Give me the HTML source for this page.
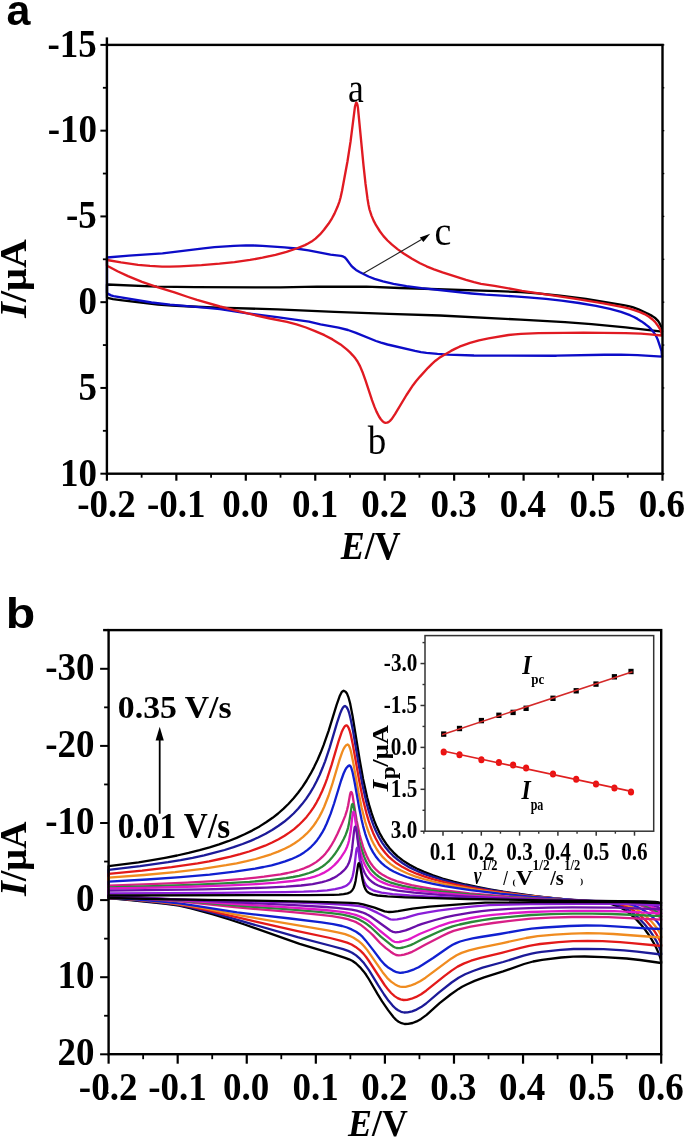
<!DOCTYPE html>
<html><head><meta charset="utf-8"><style>html,body{margin:0;padding:0;background:#fff;overflow:hidden}svg{display:block}</style></head><body>
<svg style="will-change:transform" width="685" height="1138" viewBox="0 0 685 1138">
<rect width="685" height="1138" fill="#fff"/>
<g fill="none" stroke-width="2.35" stroke-linejoin="round" stroke-linecap="round">
<path stroke="#000000" d="M107.0 284.5L157.0 286.6L195.0 287.2L280.5 287.4L317.0 286.6L366.5 286.7L400.0 288.0L497.5 291.1L521.0 292.2L537.5 293.4L560.0 295.6L586.0 298.9L623.5 305.2L628.5 306.2L632.5 307.2L638.5 309.4L647.5 313.5L652.0 315.9L655.5 318.3L658.0 320.8L659.0 322.3L660.5 325.2L661.5 327.2L662.0 331.6L625.5 327.4L591.5 324.1L565.0 322.2L520.5 319.7L440.0 315.5L389.0 313.9L334.5 311.9L277.5 309.4L218.0 307.6L191.0 306.5L172.0 305.5L158.0 304.5L122.5 300.4L113.0 299.1L107.5 297.9L107.0 297.6Z"/>
<path stroke="#0c0cc8" d="M107.0 257.5L129.0 255.6L162.5 253.4L203.5 248.4L214.5 247.2L234.0 245.8L246.0 245.4L253.5 245.5L262.5 245.9L284.5 247.4L296.0 248.5L308.5 250.3L330.5 254.7L341.0 255.8L343.0 256.4L345.0 257.6L346.5 259.3L351.0 265.4L352.5 267.0L356.0 269.9L360.0 272.3L368.5 276.5L374.5 278.8L383.0 281.4L393.5 283.8L406.5 286.1L421.5 288.2L471.5 293.5L485.5 294.7L514.5 296.4L528.0 297.3L546.0 298.9L561.5 300.6L579.0 303.0L596.0 305.9L610.0 308.9L621.0 311.9L630.0 315.2L634.0 317.0L637.5 318.9L641.5 321.4L645.5 324.3L648.5 326.7L651.5 329.7L653.5 332.1L655.0 334.2L656.5 336.9L658.0 340.3L661.5 350.9L662.0 356.6L637.5 355.1L621.0 354.6L604.5 354.7L556.5 355.7L474.0 355.5L448.0 354.7L437.5 353.9L426.5 352.8L421.0 352.1L415.0 350.9L387.5 344.5L381.0 342.7L376.0 341.0L356.0 332.8L348.0 330.0L338.5 327.6L320.5 324.3L309.0 321.6L277.0 317.1L247.5 313.4L220.0 309.2L207.0 307.9L170.0 304.7L151.5 302.5L113.5 296.2L111.0 295.4L107.5 293.6L107.0 292.6Z"/>
<path stroke="#e01a22" d="M107.0 260.0L121.0 262.4L138.0 264.8L150.0 265.9L162.0 266.6L170.0 266.7L179.5 266.3L201.5 265.1L219.5 263.7L234.5 262.1L250.0 259.9L262.5 257.7L275.5 254.8L286.5 251.9L296.5 248.5L305.0 245.1L308.5 243.3L311.5 241.6L315.5 238.6L320.0 234.4L324.0 229.8L328.5 223.8L332.0 218.3L334.5 213.6L337.5 206.8L339.5 201.3L340.5 197.8L342.0 191.0L347.5 161.3L350.5 141.9L355.0 106.4L356.0 103.0L356.5 102.6L357.0 103.5L357.5 105.1L358.0 108.3L363.5 165.3L365.5 183.7L367.5 198.7L368.5 204.8L369.5 209.5L371.5 215.6L373.5 220.4L376.0 225.2L380.0 231.5L383.5 236.1L387.5 240.5L392.0 244.7L397.5 249.1L404.0 253.7L412.0 258.7L420.0 263.2L426.5 266.3L434.0 269.3L442.5 272.3L466.0 279.9L474.0 282.2L481.0 283.8L494.5 285.8L522.0 290.8L576.0 298.9L603.5 303.3L623.0 307.1L629.5 308.7L635.0 310.3L640.0 312.1L644.5 314.1L649.0 316.8L652.5 319.5L655.0 321.9L657.5 325.2L661.0 330.6L661.5 333.0L661.5 335.5L650.0 334.3L641.0 333.7L625.5 333.2L603.0 332.8L583.5 332.7L565.0 332.8L538.5 333.2L521.0 333.8L515.0 334.3L508.5 335.0L488.5 338.3L479.0 340.3L470.0 342.9L459.5 346.7L455.5 348.6L451.0 350.9L444.0 355.0L439.0 358.1L435.5 360.7L432.0 363.8L428.0 367.8L420.0 376.6L416.0 381.3L413.0 385.2L406.5 395.0L395.0 414.1L391.5 419.3L390.0 420.9L388.5 422.1L387.0 422.7L385.5 422.8L384.0 422.3L383.0 421.6L381.0 419.5L379.0 416.5L376.5 411.6L374.5 406.9L372.0 400.2L365.5 380.4L363.0 373.3L360.0 366.1L357.5 361.5L355.5 358.6L353.0 355.6L350.0 352.4L347.0 349.6L340.5 344.4L332.5 339.4L324.5 335.2L314.5 330.8L306.0 327.5L296.5 324.4L287.0 321.9L270.0 318.5L253.0 314.7L234.0 310.1L220.0 306.5L197.0 299.9L188.0 297.0L174.5 292.4L156.5 286.8L142.0 281.8L128.0 276.1L117.5 271.2L109.5 267.0L107.5 266.1L107.0 265.5Z"/>
</g>
<line x1="363.2" y1="273.5" x2="421.5" y2="239.6" stroke="#222" stroke-width="1.1"/>
<path d="M430.2 233.8 L419.8 237.6 L423.4 241.9 Z" fill="#000"/>
<g fill="none" stroke-width="2.3" stroke-linejoin="round" stroke-linecap="round">
<path stroke="#000000" d="M108.6 866.2L138.6 862.3L152.1 860.1L165.1 857.8L177.1 855.5L188.6 852.9L199.6 850.1L209.6 847.3L219.1 844.4L228.1 841.2L236.6 837.9L244.6 834.3L252.1 830.6L259.6 826.4L266.1 822.3L272.6 817.8L278.1 813.5L283.6 808.6L288.6 803.7L293.6 798.3L298.1 792.8L302.6 786.6L306.6 780.5L310.6 773.7L314.1 767.1L317.6 759.7L320.6 752.8L323.6 745.1L328.6 730.8L336.6 704.9L339.6 696.3L341.6 692.3L342.6 691.2L343.6 690.7L345.6 691.8L347.1 693.8L348.6 697.7L350.1 703.3L352.6 716.1L359.6 759.5L363.1 778.9L367.1 797.2L369.1 804.9L371.6 813.2L374.1 820.4L376.6 826.6L379.6 833.0L382.6 838.4L386.1 843.7L389.6 848.2L393.6 852.6L397.6 856.3L403.1 860.6L409.6 864.8L416.6 868.5L424.1 871.9L433.1 875.4L442.6 878.5L453.6 881.6L465.6 884.5L477.1 886.9L489.6 889.3L503.1 891.6L517.6 893.7L537.1 896.3L558.1 898.7L580.1 900.9L606.6 903.2L611.6 904.1L616.6 905.8L620.1 907.4L623.6 909.3L627.1 911.7L630.6 914.3L634.1 917.4L637.6 920.9L641.1 924.7L644.1 928.4L647.6 933.2L650.6 937.7L653.6 942.8L656.1 947.5L658.6 953.1L660.1 957.2L661.1 961.5L661.2 963.0L640.1 960.0L626.6 958.5L603.6 957.1L584.6 956.5L573.1 956.7L561.1 957.5L542.1 959.8L533.1 961.5L524.1 964.0L503.1 971.4L484.1 977.4L474.6 980.9L466.6 984.5L462.1 986.8L458.6 988.9L450.6 994.5L439.6 1003.2L426.6 1014.8L421.1 1018.9L416.6 1021.4L412.6 1023.0L408.1 1023.9L404.6 1024.0L401.6 1023.2L398.6 1021.7L396.1 1019.9L393.6 1017.3L388.1 1010.1L382.1 1001.4L377.6 994.2L369.1 979.5L366.1 974.8L363.6 971.4L360.1 967.3L356.1 963.5L352.6 961.0L349.1 959.3L345.1 957.8L332.1 953.7L299.6 943.8L244.6 924.5L229.6 919.5L213.1 914.4L191.1 908.4L179.1 905.7L166.1 903.8L130.1 900.0L108.6 898.1Z"/>
<path stroke="#1c1a98" d="M108.6 869.8L140.1 866.2L168.1 862.2L180.6 860.1L192.6 857.8L204.1 855.3L214.6 852.7L224.6 850.0L233.6 847.2L242.6 844.0L250.6 840.9L258.1 837.5L265.6 833.7L272.1 830.0L278.6 825.8L284.1 821.8L289.1 817.6L293.6 813.5L298.1 808.8L302.1 804.1L306.1 798.9L310.1 792.9L313.6 787.0L316.6 781.3L319.6 775.0L322.6 767.8L325.1 761.3L329.6 747.9L337.1 722.6L340.1 713.6L341.6 710.0L342.6 708.1L343.6 706.8L344.1 706.4L345.0 706.0L345.6 706.3L346.6 707.1L348.1 709.9L349.1 712.8L350.6 718.7L353.1 731.4L359.1 767.0L362.6 785.7L366.6 803.3L368.6 810.7L371.1 818.7L373.6 825.6L376.1 831.5L379.1 837.5L382.1 842.6L385.6 847.6L389.1 851.8L393.1 855.8L397.6 859.6L403.1 863.5L409.6 867.4L416.6 870.8L424.6 874.1L433.6 877.2L443.6 880.2L454.6 883.0L467.1 885.7L479.6 888.2L492.6 890.4L521.6 894.6L541.1 896.9L562.1 899.1L584.1 901.1L609.6 903.1L614.1 903.8L618.6 905.2L622.1 906.6L625.6 908.3L629.1 910.4L632.1 912.5L635.6 915.3L638.6 917.9L644.6 924.2L647.6 927.9L650.6 931.9L653.6 936.4L656.1 940.6L658.6 945.6L660.1 949.3L661.1 953.2L661.2 954.5L637.1 951.6L624.1 950.4L603.6 949.2L586.6 948.8L573.6 949.0L560.6 949.8L541.6 951.9L536.6 952.7L531.6 953.7L523.6 955.7L503.1 962.0L482.6 967.7L473.1 971.0L465.1 974.3L458.6 977.7L451.6 982.5L439.1 992.4L426.1 1003.5L421.1 1007.1L416.6 1009.6L412.1 1011.4L407.6 1012.4L404.1 1012.5L401.1 1011.8L398.1 1010.3L395.6 1008.5L392.6 1005.6L388.6 1000.8L384.1 994.5L378.1 985.2L369.1 970.3L364.1 963.3L360.1 958.9L356.1 955.4L352.1 952.7L348.1 950.9L343.1 949.2L331.6 946.0L297.6 937.2L221.1 915.1L207.1 911.5L189.1 907.1L176.6 904.7L162.1 902.8L129.1 899.6L108.6 898.0Z"/>
<path stroke="#e31a1a" d="M108.6 873.8L142.1 870.7L171.6 867.2L197.6 863.3L209.1 861.3L220.1 859.0L230.6 856.6L240.1 854.1L249.1 851.5L257.1 848.7L265.1 845.7L272.1 842.5L278.6 839.3L284.6 835.8L289.6 832.4L294.1 829.1L298.6 825.2L302.6 821.3L306.6 816.9L310.1 812.4L313.6 807.3L316.6 802.3L319.6 796.6L322.1 791.3L324.6 785.3L327.1 778.6L331.6 764.9L338.6 741.1L341.6 732.3L343.1 729.0L344.1 727.3L345.1 726.1L346.5 725.3L347.6 726.1L348.6 727.8L349.6 730.5L350.6 734.1L352.6 743.4L359.1 780.1L362.6 797.7L366.6 813.9L368.6 820.6L370.6 826.5L373.1 832.9L375.6 838.3L378.6 843.8L381.6 848.3L385.1 852.8L388.6 856.6L392.6 860.2L396.6 863.3L402.6 867.1L409.1 870.5L416.6 873.7L424.6 876.6L433.6 879.3L444.1 882.1L455.6 884.7L468.1 887.2L480.6 889.3L494.1 891.4L524.1 895.3L544.1 897.4L565.1 899.3L587.6 901.2L613.1 903.0L617.6 903.7L621.6 904.7L625.1 906.0L628.1 907.4L634.1 910.8L640.1 915.3L646.1 921.0L651.6 927.3L654.1 930.7L656.6 934.5L658.6 938.1L660.1 941.3L661.1 944.7L661.2 945.8L656.6 945.5L631.6 943.1L620.1 942.1L602.6 941.2L587.6 940.9L573.1 941.2L558.6 942.1L540.1 944.0L534.6 944.8L529.1 945.8L520.6 947.8L501.6 952.8L480.6 957.9L471.1 960.7L463.6 963.6L457.6 966.6L451.6 970.6L444.6 975.9L426.1 990.7L421.1 994.2L416.1 996.9L411.6 998.7L407.1 999.8L403.6 1000.0L400.6 999.4L397.6 998.1L394.6 996.1L391.1 993.0L388.1 989.6L384.6 985.0L368.6 960.5L366.1 957.0L363.6 953.9L360.1 950.4L355.6 946.9L351.6 944.5L347.1 942.6L341.1 940.8L330.1 938.0L297.6 931.1L254.6 921.4L210.1 910.8L187.1 905.9L174.1 903.8L155.6 901.7L127.1 899.1L108.6 898.0Z"/>
<path stroke="#f08c20" d="M108.6 877.6L144.1 875.0L175.1 872.1L202.6 868.8L226.1 865.2L236.6 863.3L246.6 861.2L255.6 859.0L263.6 856.7L271.1 854.3L278.1 851.6L284.6 848.8L290.1 845.9L294.6 843.2L299.1 840.1L303.1 836.9L306.6 833.7L310.1 830.0L313.1 826.3L316.1 822.0L319.1 817.1L321.6 812.4L324.1 807.0L328.6 795.5L332.6 783.2L339.6 759.6L342.1 752.4L343.6 748.9L345.1 746.4L346.1 745.2L347.6 744.4L348.6 745.1L349.1 746.0L350.1 748.5L351.1 752.2L353.1 761.9L358.6 792.8L361.6 807.5L365.1 821.5L367.1 828.0L369.1 833.6L371.6 839.7L374.1 844.7L376.6 849.0L379.6 853.3L383.1 857.4L386.6 860.8L390.6 864.1L395.1 867.2L401.1 870.5L407.6 873.5L415.1 876.3L423.6 879.0L433.1 881.5L444.1 884.0L456.1 886.4L469.1 888.6L482.6 890.7L497.1 892.6L528.6 896.2L569.6 899.7L617.1 902.9L620.6 903.3L624.1 904.1L630.1 906.1L635.6 908.8L641.1 912.3L646.6 916.7L652.1 922.2L656.6 927.7L658.6 930.8L660.1 933.5L661.1 936.4L661.2 937.3L654.1 937.0L613.6 934.0L599.6 933.3L587.6 933.2L571.6 933.6L554.6 934.7L537.6 936.2L526.1 938.0L501.6 943.3L478.1 948.1L469.1 950.4L461.6 952.9L456.6 955.3L451.1 958.7L425.6 977.7L420.1 981.3L415.6 983.6L410.1 985.7L405.6 986.8L402.1 986.9L400.1 986.6L398.6 986.2L395.1 984.4L391.1 981.6L387.1 977.8L382.6 972.2L367.1 949.9L364.1 946.2L361.6 943.6L358.1 940.7L353.6 937.8L349.6 935.8L345.1 934.2L337.6 932.3L327.6 930.3L248.6 916.9L233.1 914.1L201.1 907.7L184.6 904.8L169.6 902.8L147.6 900.6L125.1 898.8L108.6 898.0Z"/>
<path stroke="#1020d0" d="M108.6 881.6L147.1 879.5L180.6 877.2L209.6 874.6L234.6 871.7L255.1 868.6L263.6 867.0L271.6 865.3L278.6 863.4L285.1 861.4L291.1 859.2L296.1 857.0L300.1 854.9L304.1 852.4L307.6 849.8L311.1 846.8L314.1 843.8L317.1 840.2L319.6 836.7L322.1 832.7L324.6 828.1L326.6 823.8L330.6 813.9L334.1 803.5L341.1 780.5L343.6 773.5L345.1 770.2L346.6 767.7L348.1 766.1L349.5 765.4L350.1 765.7L351.1 767.3L352.6 772.4L354.6 782.3L359.1 807.6L361.6 819.8L363.1 826.1L365.1 833.3L366.6 837.9L368.6 843.2L370.6 847.7L373.1 852.4L375.6 856.2L378.6 860.0L381.6 863.1L385.1 866.1L389.1 868.9L393.6 871.5L399.6 874.3L406.6 877.0L414.1 879.3L423.1 881.7L433.1 883.9L444.6 886.2L457.1 888.2L470.6 890.2L499.6 893.7L532.6 896.9L574.1 900.0L621.6 902.7L627.6 903.6L633.1 905.1L638.1 907.2L643.1 909.9L648.1 913.3L653.1 917.5L657.1 921.7L660.1 925.9L661.1 928.2L661.2 929.0L645.6 928.3L614.6 926.3L601.1 925.7L586.1 925.5L569.1 926.0L544.6 927.5L531.6 928.7L521.6 930.1L499.6 934.0L480.6 937.0L472.6 938.4L465.6 940.0L460.1 941.5L456.1 943.1L452.6 944.8L448.6 947.2L433.1 958.0L422.6 964.8L418.6 967.2L414.1 969.3L407.6 971.6L403.6 972.5L400.1 972.8L396.6 972.2L393.1 970.6L388.6 967.8L384.6 964.5L380.6 960.0L373.6 950.6L365.6 940.4L362.6 936.9L359.6 934.2L356.1 931.7L351.6 929.4L347.1 927.5L342.1 926.0L333.1 924.1L321.6 922.4L290.1 918.5L253.6 914.4L237.1 912.3L196.1 905.8L181.1 903.7L162.1 901.7L141.1 899.9L123.6 898.7L108.6 898.0Z"/>
<path stroke="#d81f86" d="M108.6 885.6L150.6 884.2L187.1 882.6L218.1 880.8L243.6 878.9L264.1 876.7L280.6 874.3L287.6 873.0L293.6 871.6L299.1 870.0L304.1 868.3L308.6 866.4L312.6 864.3L316.1 862.1L319.6 859.4L322.6 856.7L325.6 853.4L328.6 849.5L331.1 845.7L334.1 840.5L337.6 833.5L342.1 823.4L345.1 816.1L347.1 809.8L348.1 805.5L350.1 794.3L350.6 792.5L351.1 791.9L351.6 792.3L352.1 793.5L352.6 795.6L356.6 820.3L359.6 834.5L361.1 840.2L363.1 846.8L364.6 851.0L366.6 855.8L368.6 859.8L371.1 863.8L373.6 867.1L376.6 870.2L379.6 872.8L383.1 875.1L387.1 877.3L391.1 879.1L397.1 881.3L403.6 883.2L411.6 885.1L420.6 886.8L431.1 888.6L442.6 890.2L469.6 893.3L500.1 895.9L535.1 898.3L577.6 900.6L626.6 902.6L631.6 903.1L636.1 903.9L640.6 905.3L645.1 907.0L649.6 909.3L654.1 912.1L657.6 914.9L660.1 917.5L661.1 919.2L661.2 919.7L608.1 917.2L590.1 916.9L572.1 917.0L550.6 917.7L531.1 918.7L516.6 920.1L493.1 923.0L481.1 924.8L470.6 926.7L460.1 929.1L453.6 930.9L448.6 932.9L442.6 935.7L425.1 944.8L415.6 950.0L412.1 951.8L408.1 953.3L404.1 954.6L401.1 955.2L398.6 955.4L396.1 955.0L393.6 953.8L390.6 951.7L385.6 947.8L380.1 943.0L373.1 935.4L370.1 932.5L364.6 927.8L360.1 924.4L356.6 922.4L352.6 920.8L347.6 919.2L342.1 917.8L332.1 916.2L318.6 914.6L287.1 911.7L234.6 907.2L179.6 901.4L128.6 897.5L118.1 896.8L108.6 896.6Z"/>
<path stroke="#2a8a38" d="M108.6 887.3L153.1 886.2L191.6 884.9L223.6 883.4L249.6 881.9L270.1 880.1L286.1 878.2L293.1 877.0L299.1 875.8L304.6 874.4L309.1 873.0L313.6 871.3L317.6 869.4L321.6 867.1L325.1 864.5L328.6 861.4L331.6 858.1L334.6 854.3L337.6 849.8L340.6 844.8L343.6 839.2L345.6 834.9L347.1 831.0L348.1 827.6L349.1 823.1L351.6 806.4L352.1 804.4L352.5 803.9L353.1 804.5L354.1 808.8L357.1 829.6L359.6 842.1L361.1 847.7L362.6 852.5L364.1 856.6L366.1 861.2L368.1 864.9L370.6 868.7L373.1 871.7L375.6 874.1L378.6 876.5L382.1 878.7L386.1 880.7L390.1 882.3L396.1 884.2L402.6 885.8L410.1 887.3L419.1 888.9L441.1 891.7L469.1 894.4L500.6 896.8L536.1 898.8L579.6 900.7L629.1 902.4L633.6 902.8L638.1 903.6L642.1 904.6L646.6 906.1L650.6 907.9L654.6 910.1L658.1 912.5L660.6 914.9L661.2 916.2L612.1 914.0L592.1 913.6L572.6 913.7L551.1 914.2L531.1 915.0L515.6 916.3L493.6 918.5L482.6 920.1L471.6 922.0L459.6 924.5L452.6 926.3L446.1 928.6L437.6 932.2L423.6 938.6L414.1 943.5L410.6 945.1L406.6 946.5L403.1 947.5L400.1 948.1L398.1 948.2L396.6 948.0L395.1 947.5L393.6 946.7L391.6 945.3L381.1 936.9L370.6 927.0L367.1 924.3L362.6 921.4L358.6 919.2L354.6 917.6L349.1 916.1L342.6 914.7L331.1 913.1L316.1 911.6L286.1 909.2L231.6 905.2L179.6 900.7L122.6 896.7L108.6 896.2Z"/>
<path stroke="#e018c8" d="M108.6 888.5L156.1 887.6L196.1 886.5L229.6 885.4L256.1 884.1L276.6 882.7L292.6 881.0L305.1 879.0L310.1 877.9L314.6 876.6L319.1 875.0L323.6 872.9L327.6 870.6L331.1 868.0L334.6 864.9L338.1 861.1L341.1 857.2L344.1 852.7L345.6 850.0L347.1 846.7L348.1 843.9L349.1 840.2L350.6 831.5L352.6 814.6L353.1 812.2L353.5 811.6L354.1 812.3L354.6 814.2L357.6 837.1L359.6 848.5L360.6 852.7L362.1 857.8L363.6 861.9L365.1 865.2L367.1 868.9L369.1 871.9L371.6 874.9L374.1 877.2L377.1 879.5L380.1 881.2L383.6 882.9L388.1 884.6L393.6 886.2L400.1 887.6L407.6 889.0L416.6 890.4L439.1 892.9L467.6 895.3L500.1 897.4L537.6 899.3L575.1 900.7L631.6 902.4L635.6 902.6L639.6 903.2L643.6 904.0L647.6 905.2L651.1 906.5L655.1 908.4L658.1 910.2L660.6 912.2L661.2 913.3L614.1 911.2L592.6 910.9L572.1 910.9L550.1 911.3L530.1 912.0L513.6 913.0L492.6 914.8L482.1 916.2L471.1 918.0L457.1 920.8L449.6 922.7L440.1 925.8L425.1 931.7L419.6 934.0L411.6 938.1L408.1 939.6L401.6 941.5L399.1 942.0L397.1 942.2L394.6 941.8L393.1 941.1L391.6 940.2L379.6 930.5L370.6 922.6L368.1 920.8L365.6 919.3L360.1 916.6L355.6 914.9L350.1 913.5L343.1 912.1L335.6 911.1L324.6 910.0L292.1 907.6L228.1 903.5L177.6 900.0L122.1 896.3L115.6 896.0L108.6 895.9Z"/>
<path stroke="#6a0fa8" d="M108.6 890.6L204.1 889.3L239.1 888.5L266.1 887.6L286.1 886.7L301.1 885.5L312.6 884.1L322.1 882.2L326.1 881.0L330.1 879.6L333.6 877.9L337.1 875.9L340.6 873.4L343.6 870.7L345.6 868.5L347.6 865.6L348.6 863.6L349.6 861.0L351.1 855.1L352.1 848.7L354.1 830.6L354.6 827.6L355.1 826.6L355.6 827.1L356.1 828.8L356.6 831.7L359.1 851.8L360.6 860.5L362.6 867.9L364.6 872.7L366.1 875.3L368.1 878.1L370.1 880.2L372.6 882.3L375.1 884.0L378.1 885.5L381.6 886.9L385.6 888.1L391.1 889.4L397.6 890.6L414.1 892.7L437.1 894.7L466.6 896.6L500.1 898.3L538.6 899.7L577.6 900.8L638.6 902.3L645.6 903.2L652.1 904.8L655.6 906.1L658.6 907.4L660.6 908.6L661.2 909.4L615.6 907.7L572.1 907.4L548.6 907.6L529.1 908.1L510.1 908.9L491.1 910.1L481.6 911.1L470.6 912.7L454.6 915.4L446.1 917.1L435.1 920.0L422.1 923.9L417.1 925.7L409.6 928.9L405.6 930.4L399.6 931.9L395.6 932.3L393.1 931.9L390.6 930.8L371.1 916.8L368.6 915.2L366.1 913.9L362.1 912.3L356.6 910.7L351.6 909.7L345.1 908.8L336.6 907.9L325.6 907.0L294.1 905.1L195.1 900.4L117.6 896.3L108.6 896.1Z"/>
<path stroke="#8a1ed8" d="M108.6 893.4L221.1 892.8L285.1 892.1L303.6 891.7L317.1 891.1L327.1 890.3L335.1 889.1L341.6 887.6L344.1 886.7L346.1 885.7L347.6 884.7L349.1 883.4L350.1 882.1L351.1 880.4L352.6 876.3L353.6 871.8L354.6 865.1L356.1 852.1L356.6 849.0L357.2 847.7L357.6 848.0L358.1 849.3L358.6 851.7L360.6 866.1L362.1 874.6L363.6 880.0L365.1 883.4L366.1 884.9L367.6 886.7L369.1 888.0L371.1 889.3L373.1 890.3L375.6 891.2L381.6 892.6L392.6 894.1L409.6 895.5L434.6 896.9L466.1 898.1L501.6 899.2L541.6 900.1L642.1 901.7L648.1 902.2L653.6 902.9L659.1 904.2L660.6 904.7L661.2 905.1L619.1 903.9L580.6 903.8L530.6 904.0L508.6 904.5L489.1 905.1L480.1 905.8L469.1 906.8L449.6 909.1L438.1 910.7L427.6 912.4L418.1 914.2L413.6 915.3L406.1 917.6L402.6 918.4L397.1 919.3L393.1 919.6L390.6 919.3L388.6 918.6L377.6 912.9L369.6 909.1L365.6 907.5L363.1 906.8L359.6 906.1L349.6 905.0L329.1 903.8L298.1 902.6L179.1 899.4L108.6 897.1Z"/>
<path stroke="#000000" d="M108.6 895.5L308.1 895.1L332.6 894.8L339.1 894.6L343.6 894.2L347.6 893.4L350.1 892.3L352.1 890.5L353.6 888.0L354.6 885.2L355.6 880.9L358.1 864.7L358.6 863.3L358.8 863.2L359.1 863.3L359.6 864.2L360.1 866.0L362.6 880.1L363.6 884.3L364.6 887.3L365.6 889.4L366.6 890.9L367.6 892.0L369.6 893.4L373.1 894.7L377.6 895.5L387.6 896.4L405.6 897.3L433.6 898.2L468.1 899.0L544.6 900.3L645.1 901.3L655.1 901.9L659.1 902.5L661.2 903.0L626.1 902.2L601.1 902.0L533.1 902.1L485.1 902.7L466.1 903.8L429.6 906.7L412.6 908.6L398.1 911.2L392.6 911.8L389.1 912.0L386.6 911.7L384.6 911.3L374.6 907.7L363.1 904.3L358.1 903.4L350.6 902.9L326.6 902.1L294.6 901.3L171.6 899.4L108.6 898.0Z"/>
</g>
<rect x="106.9" y="44.9" width="555.6" height="428.8" fill="none" stroke="#000" stroke-width="2.4"/>
<line x1="106.9" y1="37.4" x2="106.9" y2="44.9" stroke="#000" stroke-width="2.4"/>
<line x1="100.4" y1="44.90" x2="106.9" y2="44.90" stroke="#000" stroke-width="2"/>
<line x1="100.4" y1="130.66" x2="106.9" y2="130.66" stroke="#000" stroke-width="2"/>
<line x1="100.4" y1="216.42" x2="106.9" y2="216.42" stroke="#000" stroke-width="2"/>
<line x1="100.4" y1="302.18" x2="106.9" y2="302.18" stroke="#000" stroke-width="2"/>
<line x1="100.4" y1="387.94" x2="106.9" y2="387.94" stroke="#000" stroke-width="2"/>
<line x1="100.4" y1="473.70" x2="106.9" y2="473.70" stroke="#000" stroke-width="2"/>
<line x1="102.9" y1="87.78" x2="106.9" y2="87.78" stroke="#000" stroke-width="1.8"/>
<line x1="102.9" y1="173.54" x2="106.9" y2="173.54" stroke="#000" stroke-width="1.8"/>
<line x1="102.9" y1="259.30" x2="106.9" y2="259.30" stroke="#000" stroke-width="1.8"/>
<line x1="102.9" y1="345.06" x2="106.9" y2="345.06" stroke="#000" stroke-width="1.8"/>
<line x1="102.9" y1="430.82" x2="106.9" y2="430.82" stroke="#000" stroke-width="1.8"/>
<line x1="106.90" y1="473.7" x2="106.90" y2="480.7" stroke="#000" stroke-width="2.2"/>
<line x1="176.35" y1="473.7" x2="176.35" y2="480.7" stroke="#000" stroke-width="2.2"/>
<line x1="245.80" y1="473.7" x2="245.80" y2="480.7" stroke="#000" stroke-width="2.2"/>
<line x1="315.25" y1="473.7" x2="315.25" y2="480.7" stroke="#000" stroke-width="2.2"/>
<line x1="384.70" y1="473.7" x2="384.70" y2="480.7" stroke="#000" stroke-width="2.2"/>
<line x1="454.15" y1="473.7" x2="454.15" y2="480.7" stroke="#000" stroke-width="2.2"/>
<line x1="523.60" y1="473.7" x2="523.60" y2="480.7" stroke="#000" stroke-width="2.2"/>
<line x1="593.05" y1="473.7" x2="593.05" y2="480.7" stroke="#000" stroke-width="2.2"/>
<line x1="662.50" y1="473.7" x2="662.50" y2="480.7" stroke="#000" stroke-width="2.2"/>
<line x1="141.63" y1="473.7" x2="141.63" y2="477.7" stroke="#000" stroke-width="1.8"/>
<line x1="211.08" y1="473.7" x2="211.08" y2="477.7" stroke="#000" stroke-width="1.8"/>
<line x1="280.52" y1="473.7" x2="280.52" y2="477.7" stroke="#000" stroke-width="1.8"/>
<line x1="349.98" y1="473.7" x2="349.98" y2="477.7" stroke="#000" stroke-width="1.8"/>
<line x1="419.42" y1="473.7" x2="419.42" y2="477.7" stroke="#000" stroke-width="1.8"/>
<line x1="488.88" y1="473.7" x2="488.88" y2="477.7" stroke="#000" stroke-width="1.8"/>
<line x1="558.33" y1="473.7" x2="558.33" y2="477.7" stroke="#000" stroke-width="1.8"/>
<line x1="627.77" y1="473.7" x2="627.77" y2="477.7" stroke="#000" stroke-width="1.8"/>
<line x1="662.5" y1="44.90" x2="664.3" y2="44.90" stroke="#000" stroke-width="1.3"/>
<line x1="662.5" y1="87.78" x2="664.3" y2="87.78" stroke="#000" stroke-width="1.3"/>
<line x1="662.5" y1="130.66" x2="664.3" y2="130.66" stroke="#000" stroke-width="1.3"/>
<line x1="662.5" y1="173.54" x2="664.3" y2="173.54" stroke="#000" stroke-width="1.3"/>
<line x1="662.5" y1="216.42" x2="664.3" y2="216.42" stroke="#000" stroke-width="1.3"/>
<line x1="662.5" y1="259.30" x2="664.3" y2="259.30" stroke="#000" stroke-width="1.3"/>
<line x1="662.5" y1="302.18" x2="664.3" y2="302.18" stroke="#000" stroke-width="1.3"/>
<line x1="662.5" y1="345.06" x2="664.3" y2="345.06" stroke="#000" stroke-width="1.3"/>
<line x1="662.5" y1="387.94" x2="664.3" y2="387.94" stroke="#000" stroke-width="1.3"/>
<line x1="662.5" y1="430.82" x2="664.3" y2="430.82" stroke="#000" stroke-width="1.3"/>
<line x1="662.5" y1="473.70" x2="664.3" y2="473.70" stroke="#000" stroke-width="1.3"/>
<rect x="108.6" y="630.1" width="552.6" height="424.1" fill="none" stroke="#000" stroke-width="2.4"/>
<line x1="100.1" y1="668.80" x2="108.6" y2="668.80" stroke="#000" stroke-width="2"/>
<line x1="100.1" y1="745.90" x2="108.6" y2="745.90" stroke="#000" stroke-width="2"/>
<line x1="100.1" y1="823.00" x2="108.6" y2="823.00" stroke="#000" stroke-width="2"/>
<line x1="100.1" y1="900.10" x2="108.6" y2="900.10" stroke="#000" stroke-width="2"/>
<line x1="100.1" y1="977.20" x2="108.6" y2="977.20" stroke="#000" stroke-width="2"/>
<line x1="100.1" y1="1054.30" x2="108.6" y2="1054.30" stroke="#000" stroke-width="2"/>
<line x1="104.1" y1="707.35" x2="108.6" y2="707.35" stroke="#000" stroke-width="1.8"/>
<line x1="104.1" y1="784.45" x2="108.6" y2="784.45" stroke="#000" stroke-width="1.8"/>
<line x1="104.1" y1="861.55" x2="108.6" y2="861.55" stroke="#000" stroke-width="1.8"/>
<line x1="104.1" y1="938.65" x2="108.6" y2="938.65" stroke="#000" stroke-width="1.8"/>
<line x1="104.1" y1="1015.75" x2="108.6" y2="1015.75" stroke="#000" stroke-width="1.8"/>
<line x1="104.1" y1="1092.85" x2="108.6" y2="1092.85" stroke="#000" stroke-width="1.8"/>
<line x1="103.1" y1="630.1" x2="108.6" y2="630.1" stroke="#000" stroke-width="2.4"/>
<line x1="108.60" y1="1054.2" x2="108.60" y2="1063.7" stroke="#000" stroke-width="2.2"/>
<line x1="177.68" y1="1054.2" x2="177.68" y2="1063.7" stroke="#000" stroke-width="2.2"/>
<line x1="246.75" y1="1054.2" x2="246.75" y2="1063.7" stroke="#000" stroke-width="2.2"/>
<line x1="315.83" y1="1054.2" x2="315.83" y2="1063.7" stroke="#000" stroke-width="2.2"/>
<line x1="384.90" y1="1054.2" x2="384.90" y2="1063.7" stroke="#000" stroke-width="2.2"/>
<line x1="453.98" y1="1054.2" x2="453.98" y2="1063.7" stroke="#000" stroke-width="2.2"/>
<line x1="523.05" y1="1054.2" x2="523.05" y2="1063.7" stroke="#000" stroke-width="2.2"/>
<line x1="592.12" y1="1054.2" x2="592.12" y2="1063.7" stroke="#000" stroke-width="2.2"/>
<line x1="661.20" y1="1054.2" x2="661.20" y2="1063.7" stroke="#000" stroke-width="2.2"/>
<line x1="143.14" y1="1054.2" x2="143.14" y2="1059.2" stroke="#000" stroke-width="1.8"/>
<line x1="212.21" y1="1054.2" x2="212.21" y2="1059.2" stroke="#000" stroke-width="1.8"/>
<line x1="281.29" y1="1054.2" x2="281.29" y2="1059.2" stroke="#000" stroke-width="1.8"/>
<line x1="350.36" y1="1054.2" x2="350.36" y2="1059.2" stroke="#000" stroke-width="1.8"/>
<line x1="419.44" y1="1054.2" x2="419.44" y2="1059.2" stroke="#000" stroke-width="1.8"/>
<line x1="488.51" y1="1054.2" x2="488.51" y2="1059.2" stroke="#000" stroke-width="1.8"/>
<line x1="557.59" y1="1054.2" x2="557.59" y2="1059.2" stroke="#000" stroke-width="1.8"/>
<line x1="626.66" y1="1054.2" x2="626.66" y2="1059.2" stroke="#000" stroke-width="1.8"/>
<rect x="425.0" y="635.6" width="228.70000000000005" height="195.60000000000002" fill="#fff" stroke="#333" stroke-width="1.5"/>
<line x1="420.5" y1="663.55" x2="425.0" y2="663.55" stroke="#333" stroke-width="1.5"/>
<line x1="420.5" y1="705.48" x2="425.0" y2="705.48" stroke="#333" stroke-width="1.5"/>
<line x1="420.5" y1="747.40" x2="425.0" y2="747.40" stroke="#333" stroke-width="1.5"/>
<line x1="420.5" y1="789.32" x2="425.0" y2="789.32" stroke="#333" stroke-width="1.5"/>
<line x1="420.5" y1="831.25" x2="425.0" y2="831.25" stroke="#333" stroke-width="1.5"/>
<line x1="422.5" y1="642.59" x2="425.0" y2="642.59" stroke="#333" stroke-width="1.4"/>
<line x1="422.5" y1="684.51" x2="425.0" y2="684.51" stroke="#333" stroke-width="1.4"/>
<line x1="422.5" y1="726.44" x2="425.0" y2="726.44" stroke="#333" stroke-width="1.4"/>
<line x1="422.5" y1="768.36" x2="425.0" y2="768.36" stroke="#333" stroke-width="1.4"/>
<line x1="422.5" y1="810.29" x2="425.0" y2="810.29" stroke="#333" stroke-width="1.4"/>
<line x1="443.00" y1="831.2" x2="443.00" y2="835.7" stroke="#333" stroke-width="1.5"/>
<line x1="481.30" y1="831.2" x2="481.30" y2="835.7" stroke="#333" stroke-width="1.5"/>
<line x1="519.60" y1="831.2" x2="519.60" y2="835.7" stroke="#333" stroke-width="1.5"/>
<line x1="557.90" y1="831.2" x2="557.90" y2="835.7" stroke="#333" stroke-width="1.5"/>
<line x1="596.20" y1="831.2" x2="596.20" y2="835.7" stroke="#333" stroke-width="1.5"/>
<line x1="634.50" y1="831.2" x2="634.50" y2="835.7" stroke="#333" stroke-width="1.5"/>
<line x1="423.85" y1="831.2" x2="423.85" y2="833.7" stroke="#333" stroke-width="1.4"/>
<line x1="462.15" y1="831.2" x2="462.15" y2="833.7" stroke="#333" stroke-width="1.4"/>
<line x1="500.45" y1="831.2" x2="500.45" y2="833.7" stroke="#333" stroke-width="1.4"/>
<line x1="538.75" y1="831.2" x2="538.75" y2="833.7" stroke="#333" stroke-width="1.4"/>
<line x1="577.05" y1="831.2" x2="577.05" y2="833.7" stroke="#333" stroke-width="1.4"/>
<line x1="615.35" y1="831.2" x2="615.35" y2="833.7" stroke="#333" stroke-width="1.4"/>
<rect x="441.10" y="731.40" width="5.2" height="5.4" fill="#000"/>
<rect x="456.90" y="725.80" width="5.2" height="5.4" fill="#000"/>
<rect x="478.80" y="717.90" width="5.2" height="5.4" fill="#000"/>
<rect x="496.30" y="712.60" width="5.2" height="5.4" fill="#000"/>
<rect x="510.50" y="709.70" width="5.2" height="5.4" fill="#000"/>
<rect x="523.50" y="705.60" width="5.2" height="5.4" fill="#000"/>
<rect x="550.40" y="695.60" width="5.2" height="5.4" fill="#000"/>
<rect x="573.60" y="688.10" width="5.2" height="5.4" fill="#000"/>
<rect x="593.40" y="681.40" width="5.2" height="5.4" fill="#000"/>
<rect x="611.80" y="674.10" width="5.2" height="5.4" fill="#000"/>
<rect x="628.40" y="668.80" width="5.2" height="5.4" fill="#000"/>
<ellipse cx="443.70" cy="752.10" rx="3.1" ry="3.5" fill="#ee1010"/>
<ellipse cx="459.50" cy="754.80" rx="3.1" ry="3.5" fill="#ee1010"/>
<ellipse cx="481.40" cy="759.70" rx="3.1" ry="3.5" fill="#ee1010"/>
<ellipse cx="498.90" cy="762.60" rx="3.1" ry="3.5" fill="#ee1010"/>
<ellipse cx="513.10" cy="764.90" rx="3.1" ry="3.5" fill="#ee1010"/>
<ellipse cx="526.10" cy="767.90" rx="3.1" ry="3.5" fill="#ee1010"/>
<ellipse cx="553.00" cy="774.00" rx="3.1" ry="3.5" fill="#ee1010"/>
<ellipse cx="576.20" cy="779.30" rx="3.1" ry="3.5" fill="#ee1010"/>
<ellipse cx="596.00" cy="784.00" rx="3.1" ry="3.5" fill="#ee1010"/>
<ellipse cx="614.40" cy="788.00" rx="3.1" ry="3.5" fill="#ee1010"/>
<ellipse cx="631.00" cy="792.10" rx="3.1" ry="3.5" fill="#ee1010"/>
<line x1="442" y1="734.75" x2="632.5" y2="671.66" stroke="#d42a2a" stroke-width="1.6"/>
<line x1="442" y1="750.75" x2="632.5" y2="791.60" stroke="#e02020" stroke-width="1.6"/>
<text transform="translate(47.40,56.93) scale(0.37000,0.40700)" font-size="100" font-family="Liberation Serif" font-weight="bold">-15</text>
<text transform="translate(47.77,142.48) scale(0.37000,0.40700)" font-size="100" font-family="Liberation Serif" font-weight="bold">-10</text>
<text transform="translate(65.90,228.24) scale(0.37000,0.40700)" font-size="100" font-family="Liberation Serif" font-weight="bold">-5</text>
<text transform="translate(78.48,314.00) scale(0.37000,0.40700)" font-size="100" font-family="Liberation Serif" font-weight="bold">0</text>
<text transform="translate(78.48,399.76) scale(0.37000,0.40700)" font-size="100" font-family="Liberation Serif" font-weight="bold">5</text>
<text transform="translate(59.98,485.52) scale(0.37000,0.40700)" font-size="100" font-family="Liberation Serif" font-weight="bold">10</text>
<text transform="translate(77.27,516.56) scale(0.37000,0.40700)" font-size="100" font-family="Liberation Serif" font-weight="bold">-0.2</text>
<text transform="translate(146.91,516.56) scale(0.37000,0.40700)" font-size="100" font-family="Liberation Serif" font-weight="bold">-0.1</text>
<text transform="translate(222.28,516.56) scale(0.37000,0.40700)" font-size="100" font-family="Liberation Serif" font-weight="bold">0.0</text>
<text transform="translate(291.91,516.56) scale(0.37000,0.40700)" font-size="100" font-family="Liberation Serif" font-weight="bold">0.1</text>
<text transform="translate(361.18,516.56) scale(0.37000,0.40700)" font-size="100" font-family="Liberation Serif" font-weight="bold">0.2</text>
<text transform="translate(430.44,516.56) scale(0.37000,0.40700)" font-size="100" font-family="Liberation Serif" font-weight="bold">0.3</text>
<text transform="translate(499.71,516.56) scale(0.37000,0.40700)" font-size="100" font-family="Liberation Serif" font-weight="bold">0.4</text>
<text transform="translate(569.52,516.56) scale(0.37000,0.40700)" font-size="100" font-family="Liberation Serif" font-weight="bold">0.5</text>
<text transform="translate(638.79,516.56) scale(0.37000,0.40700)" font-size="100" font-family="Liberation Serif" font-weight="bold">0.6</text>
<text transform="translate(6.61,24.97) scale(0.43019,0.43000)" font-size="100" font-family="Liberation Sans" font-weight="bold">a</text>
<text transform="translate(340.76,559.11) scale(0.35868,0.39254)" font-size="100" font-family="Liberation Serif" font-weight="bold"><tspan font-style="italic">E</tspan>/V</text>
<text transform="translate(26.11,317.70) rotate(-90) scale(0.40102,0.37586)" font-size="100" font-family="Liberation Serif" font-weight="bold"><tspan font-style="italic">I</tspan>/μA</text>
<text transform="translate(348.04,101.91) scale(0.35500,0.39375)" font-size="100" font-family="Liberation Serif">a</text>
<text transform="translate(367.70,454.40) scale(0.36957,0.40143)" font-size="100" font-family="Liberation Serif">b</text>
<text transform="translate(434.59,245.21) scale(0.37838,0.39167)" font-size="100" font-family="Liberation Serif">c</text>
<text transform="translate(45.27,679.95) scale(0.37000,0.39220)" font-size="100" font-family="Liberation Serif" font-weight="bold">-30</text>
<text transform="translate(45.27,757.05) scale(0.37000,0.39220)" font-size="100" font-family="Liberation Serif" font-weight="bold">-20</text>
<text transform="translate(45.27,834.15) scale(0.37000,0.39220)" font-size="100" font-family="Liberation Serif" font-weight="bold">-10</text>
<text transform="translate(75.98,911.25) scale(0.37000,0.39220)" font-size="100" font-family="Liberation Serif" font-weight="bold">0</text>
<text transform="translate(57.48,988.35) scale(0.37000,0.39220)" font-size="100" font-family="Liberation Serif" font-weight="bold">10</text>
<text transform="translate(57.48,1065.45) scale(0.37000,0.39220)" font-size="100" font-family="Liberation Serif" font-weight="bold">20</text>
<text transform="translate(78.87,1100.09) scale(0.37000,0.39220)" font-size="100" font-family="Liberation Serif" font-weight="bold">-0.2</text>
<text transform="translate(148.13,1100.09) scale(0.37000,0.39220)" font-size="100" font-family="Liberation Serif" font-weight="bold">-0.1</text>
<text transform="translate(223.12,1100.09) scale(0.37000,0.39220)" font-size="100" font-family="Liberation Serif" font-weight="bold">0.0</text>
<text transform="translate(292.39,1100.09) scale(0.37000,0.39220)" font-size="100" font-family="Liberation Serif" font-weight="bold">0.1</text>
<text transform="translate(361.27,1100.09) scale(0.37000,0.39220)" font-size="100" font-family="Liberation Serif" font-weight="bold">0.2</text>
<text transform="translate(430.17,1100.09) scale(0.37000,0.39220)" font-size="100" font-family="Liberation Serif" font-weight="bold">0.3</text>
<text transform="translate(499.06,1100.09) scale(0.37000,0.39220)" font-size="100" font-family="Liberation Serif" font-weight="bold">0.4</text>
<text transform="translate(568.50,1100.09) scale(0.37000,0.39220)" font-size="100" font-family="Liberation Serif" font-weight="bold">0.5</text>
<text transform="translate(637.39,1100.09) scale(0.37000,0.39220)" font-size="100" font-family="Liberation Serif" font-weight="bold">0.6</text>
<text transform="translate(5.83,627.77) scale(0.48200,0.42973)" font-size="100" font-family="Liberation Sans" font-weight="bold">b</text>
<text transform="translate(348.06,1136.44) scale(0.35868,0.38209)" font-size="100" font-family="Liberation Serif" font-weight="bold"><tspan font-style="italic">E</tspan>/V</text>
<text transform="translate(25.95,896.12) rotate(-90) scale(0.38214,0.36897)" font-size="100" font-family="Liberation Serif" font-weight="bold"><tspan font-style="italic">I</tspan>/μA</text>
<text transform="translate(117.85,717.86) scale(0.33746,0.32206)" font-size="100" font-family="Liberation Serif" font-weight="bold">0.35 V/s</text>
<text transform="translate(117.87,838.20) scale(0.33293,0.34853)" font-size="100" font-family="Liberation Serif" font-weight="bold">0.01 V/s</text>
<text transform="translate(383.85,670.69) scale(0.21200,0.24804)" font-size="100" font-family="Liberation Serif" font-weight="bold">-3.0</text>
<text transform="translate(383.64,712.74) scale(0.21200,0.24804)" font-size="100" font-family="Liberation Serif" font-weight="bold">-1.5</text>
<text transform="translate(390.85,754.54) scale(0.21200,0.24804)" font-size="100" font-family="Liberation Serif" font-weight="bold">0.0</text>
<text transform="translate(390.85,796.59) scale(0.21200,0.24804)" font-size="100" font-family="Liberation Serif" font-weight="bold">1.5</text>
<text transform="translate(390.85,838.39) scale(0.21200,0.24804)" font-size="100" font-family="Liberation Serif" font-weight="bold">3.0</text>
<text transform="translate(429.86,859.77) scale(0.21200,0.24804)" font-size="100" font-family="Liberation Serif" font-weight="bold">0.1</text>
<text transform="translate(468.05,859.77) scale(0.21200,0.24804)" font-size="100" font-family="Liberation Serif" font-weight="bold">0.2</text>
<text transform="translate(506.24,859.77) scale(0.21200,0.24804)" font-size="100" font-family="Liberation Serif" font-weight="bold">0.3</text>
<text transform="translate(544.44,859.77) scale(0.21200,0.24804)" font-size="100" font-family="Liberation Serif" font-weight="bold">0.4</text>
<text transform="translate(582.95,859.77) scale(0.21200,0.24804)" font-size="100" font-family="Liberation Serif" font-weight="bold">0.5</text>
<text transform="translate(621.14,859.77) scale(0.21200,0.24804)" font-size="100" font-family="Liberation Serif" font-weight="bold">0.6</text>
<text transform="translate(522.24,673.82) scale(0.23953,0.27727)" font-size="100" font-family="Liberation Serif" font-weight="bold" font-style="italic">I</text>
<text transform="translate(531.37,684.37) scale(0.13021,0.15362)" font-size="100" font-family="Liberation Serif" font-weight="bold">pc</text>
<text transform="translate(521.54,799.03) scale(0.23721,0.26970)" font-size="100" font-family="Liberation Serif" font-weight="bold" font-style="italic">I</text>
<text transform="translate(530.68,810.25) scale(0.12039,0.15942)" font-size="100" font-family="Liberation Serif" font-weight="bold">pa</text>
<text transform="translate(388.26,791.50) rotate(-90) scale(0.29767,0.23636)" font-size="100" font-family="Liberation Serif" font-weight="bold" font-style="italic">I</text>
<text transform="translate(394.62,779.24) rotate(-90) scale(0.23529,0.20870)" font-size="100" font-family="Liberation Serif" font-weight="bold">p</text>
<text transform="translate(387.77,766.73) rotate(-90) scale(0.26624,0.22529)" font-size="100" font-family="Liberation Serif" font-weight="bold">/μA</text>
<text transform="translate(473.73,883.74) scale(0.17273,0.25957)" font-size="100" font-family="Liberation Serif" font-weight="bold" font-style="italic">v</text>
<text transform="translate(481.51,870.33) scale(0.12435,0.13676)" font-size="100" font-family="Liberation Serif" font-weight="bold">1/2</text>
<text transform="translate(503.17,884.58) scale(0.16667,0.21194)" font-size="100" font-family="Liberation Serif" font-weight="bold">/</text>
<text transform="translate(512.62,884.75) scale(0.09615,0.08333)" font-size="100" font-family="Liberation Serif" font-weight="bold">(</text>
<text transform="translate(515.97,884.58) scale(0.23429,0.21194)" font-size="100" font-family="Liberation Serif" font-weight="bold">V</text>
<text transform="translate(532.54,870.33) scale(0.13304,0.13676)" font-size="100" font-family="Liberation Serif" font-weight="bold">1/2</text>
<text transform="translate(550.20,884.58) scale(0.20308,0.21194)" font-size="100" font-family="Liberation Serif" font-weight="bold">/s</text>
<text transform="translate(564.31,870.33) scale(0.12435,0.13676)" font-size="100" font-family="Liberation Serif" font-weight="bold">1/2</text>
<text transform="translate(580.01,883.75) scale(0.09615,0.08333)" font-size="100" font-family="Liberation Serif" font-weight="bold">)</text>
<line x1="159.7" y1="813.7" x2="159.7" y2="738" stroke="#000" stroke-width="1.8"/><path d="M159.7 726.8 L155.6 740.6 L163.8 740.6 Z" fill="#000"/></svg>
</body></html>
